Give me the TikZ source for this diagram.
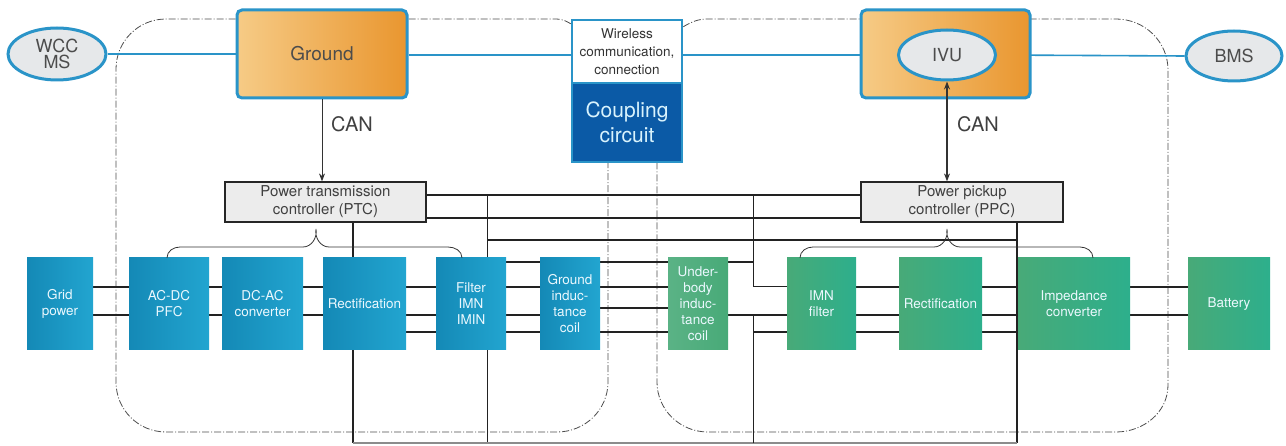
\documentclass[tikz,border=0pt]{standalone}
\usepackage{fontspec}
\setmainfont{TeX Gyre Heros}
\usetikzlibrary{arrows.meta,shapes.geometric}
\pgfdeclarelayer{bg}
\pgfsetlayers{bg,main}
\definecolor{eblue}{HTML}{2A94C8}
\definecolor{egrey}{HTML}{E6E8EA}
\definecolor{cgrey}{HTML}{ECECEC}
\definecolor{orL}{HTML}{F6CB86}
\definecolor{orR}{HTML}{E9962F}
\definecolor{bL}{HTML}{1489B6}
\definecolor{bR}{HTML}{22A5D0}
\definecolor{gL}{HTML}{48AA78}
\definecolor{gR}{HTML}{2DAF8C}
\definecolor{cpl}{HTML}{0B5AA6}
\definecolor{ln}{HTML}{222222}
\begin{document}
\begin{tikzpicture}[x=1pt,y=-1pt,
  ell/.style={ellipse,draw=eblue,line width=3pt,fill=egrey,inner sep=0pt,text=black!70,
    font=\fontsize{18}{16}\selectfont,align=center},
  topbox/.style={draw=eblue,line width=3pt,rounded corners=5pt,left color=orL,right color=orR,
    minimum width=170pt,minimum height=88pt,inner sep=0pt},
  ctrl/.style={draw=black!85,line width=1.2pt,fill=cgrey,inner sep=0pt,align=center,
    text=black!75,font=\fontsize{15}{18}\selectfont,minimum height=40pt},
  bluebox/.style={left color=bL,right color=bR,minimum height=92pt,inner sep=0pt,align=center,
    text=white!92!cyan,font=\fontsize{13.5}{16}\selectfont},
  greenbox/.style={bluebox,left color=gL,right color=gR},
  dd/.style={draw=black!70,line width=0.8pt,dash pattern=on 7pt off 2pt on 1pt off 2pt},
  r1/.style={draw=ln,line width=1.4pt},
  r2/.style={draw=ln,line width=2.8pt},
  r3/.style={draw=ln,line width=1.2pt},
  bl/.style={draw=eblue,line width=1.6pt},
  brc/.style={draw=black!80,line width=0.8pt},
  canlab/.style={text=black!75,font=\fontsize{20}{20}\selectfont},
]
\useasboundingbox (0,0) rectangle (1286,446);

% top row
\node[ell,minimum width=98pt,minimum height=52pt] (wcc) at (57,54) {WCC\\MS};
\node[topbox] (ground) at (322,54) {\fontsize{19}{19}\selectfont\color{black!70}Ground};
\node[draw=eblue,line width=2.5pt,fill=white,minimum width=110pt,minimum height=63pt,inner sep=0pt,
  align=center,text=black!80,font=\fontsize{13.5}{18}\selectfont] (wl) at (627,51.5)
  {Wireless\\communication,\\connection};
\node[draw=eblue,line width=2.5pt,fill=cpl,minimum width=110pt,minimum height=79pt,inner sep=0pt,
  align=center,text=white!85!cyan,font=\fontsize{21}{25}\selectfont] (cp) at (627,122.5)
  {Coupling\\circuit};
\node[topbox,minimum width=169pt] (ivubox) at (945.5,54) {};
\node[ell,minimum width=97pt,minimum height=50pt] (ivu) at (947,55) {IVU};
\node[ell,minimum width=96pt,minimum height=50pt] (bms) at (1234,56) {BMS};

% controllers
\node[ctrl,minimum width=201pt] (ptc) at (325.5,202) {Power transmission\\controller (PTC)};
\node[ctrl,minimum width=202pt] (ppc) at (962,202) {Power pickup\\controller (PPC)};
\node[canlab] (can1) at (352,124) {CAN};
\node[canlab] (can2) at (978,124) {CAN};

% row of blocks
\node[bluebox,minimum width=66pt] (grid) at (60,304) {Grid\\power};
\node[bluebox,minimum width=80pt] (acdc) at (169,304) {AC-DC\\PFC};
\node[bluebox,minimum width=81pt] (dcac) at (262.5,304) {DC-AC\\converter};
\node[bluebox,minimum width=83pt] (rectA) at (364.5,304) {Rectification};
\node[bluebox,minimum width=70pt] (filt) at (471,304) {Filter\\IMN\\IMIN};
\node[bluebox,minimum width=60pt] (gcoil) at (570,304) {Ground\\induc-\\tance\\coil};
\node[greenbox,minimum width=60pt,left color=gL!90!white,right color=gL] (ucoil) at (698,304) {Under-\\body\\induc-\\tance\\coil};
\node[greenbox,minimum width=69pt] (imn) at (821.5,304) {IMN\\filter};
\node[greenbox,minimum width=83pt] (rectB) at (940.5,304) {Rectification};
\node[greenbox,minimum width=112pt] (imp) at (1074,304) {Impedance\\converter};
\node[greenbox,minimum width=82pt] (bat) at (1229,304) {Battery};

% junctions
\coordinate (jA) at (487,195);
\coordinate (jB) at (753,195);
\coordinate (jC) at (353,443);
\coordinate (jD) at (487,443);
\coordinate (jE) at (753,443);
\coordinate (jF) at (1017,443);
\coordinate (jG) at (487,240);
\coordinate (jH) at (1017,240);

\begin{pgfonlayer}{bg}
% dash-dot regions
\draw[dd] (wl.north west) ++(0,5) to[out=150,in=0] (556,19) -- (166,19) to[out=180,in=90] (116,69)
  -- (116,382) to[out=-90,in=180] (166,432) -- (557,432) to[out=0,in=-90] (608,382) -- (608,162);
\draw[dd] (wl.north east) ++(0,8) to[out=30,in=180] (708,19) -- (1116,19) to[out=0,in=90] (1168,70)
  -- (1168,385) to[out=-90,in=0] (1116,432) -- (708,432) to[out=180,in=-90] (657,382) -- (657,162);
% blue links
\draw[bl] (wcc.east) -- (ground.west |- wcc.east);
\draw[bl] (ground.east |- 0,55) -- (wl.west |- 0,55);
\draw[bl] (wl.east |- 0,55) -- (ivubox.west |- 0,55) -- (ivu.west);
\draw[bl] (ivu.east) -- (bms.west);
% controller buses
\draw[draw=ln,line width=1.2pt] (ptc.east |- jA) -- (ppc.west |- jA);
\draw[draw=ln,line width=2pt] (ptc.east |- 0,218) -- (ppc.west |- 0,218);
\draw[draw=ln,line width=1pt] (jA) -- (jD);
\draw[draw=ln,line width=2.2pt] (jG) -- (jH);
\draw[draw=ln,line width=1.1pt] (ppc.south -| jH) -- (jF);
\draw[draw=ln,line width=1.1pt] (ptc.south -| jC) -- (jC);
\draw[draw=black!45,line width=1.6pt] (jC) -- (jF);
\draw[draw=ln,line width=1pt] (jB) -- (jB |- 0,287) -- (imn.west |- 0,287);
\draw[r3] (ucoil.east |- 0,262) -- (jB |- 0,262);
\draw[draw=ln,line width=1pt] (jE) -- (jE |- 0,315);
\draw[r3] (jE |- 0,332) -- (imn.west |- 0,332);
% rails
\foreach \a/\b in {grid/acdc,acdc/dcac,dcac/rectA,rectA/filt,imn/rectB,rectB/imp,imp/bat}{
  \draw[r1] (\a.east |- 0,287) -- (\b.west |- 0,287);
  \draw[r2] (\a.east |- 0,315) -- (\b.west |- 0,315);
}
\foreach \a/\b in {rectA/filt,filt/gcoil,gcoil/ucoil,imn/rectB,rectB/imp}
  \draw[r3] (\a.east |- 0,332) -- (\b.west |- 0,332);
\draw[r3] (filt.east |- 0,262) -- (gcoil.west |- 0,262);
\draw[r1] (filt.east |- 0,287) -- (gcoil.west |- 0,287);
\draw[r2] (filt.east |- 0,315) -- (gcoil.west |- 0,315);
\draw[r3] (gcoil.east |- 0,262) -- (ucoil.west |- 0,262);
\draw[r1] (gcoil.east |- 0,287) -- (ucoil.west |- 0,287);
\draw[r1] (gcoil.east |- 0,308) -- (ucoil.west |- 0,308);
\draw[r2] (ucoil.east |- 0,315) -- (imn.west |- 0,315);
\end{pgfonlayer}

% CAN arrows
\draw[draw=black!80,line width=1pt,-{Stealth[length=8pt,width=6pt]}] (ground.south) -- (ground.south |- ptc.north);
\draw[draw=black!80,line width=1.2pt,{Stealth[length=8pt,width=6pt]}-{Stealth[length=8pt,width=6pt]}] (ivu.south) -- (ivu.south |- ppc.north);

% braces
\draw[brc] (acdc.north -| 167,0) to[out=90,in=180] (180,247) -- (303,247) to[out=0,in=-80] (316,229)
  to[out=-100,in=180] (329,247) -- (448,247) to[out=0,in=90] (filt.north -| 462,0);
\draw[brc] (imn.north -| 800,0) to[out=90,in=180] (813,247) -- (934,247) to[out=0,in=-80] (947,229)
  to[out=-100,in=180] (960,247) -- (1080,247) to[out=0,in=90] (imp.north -| 1093,0);
\end{tikzpicture}
\end{document}
